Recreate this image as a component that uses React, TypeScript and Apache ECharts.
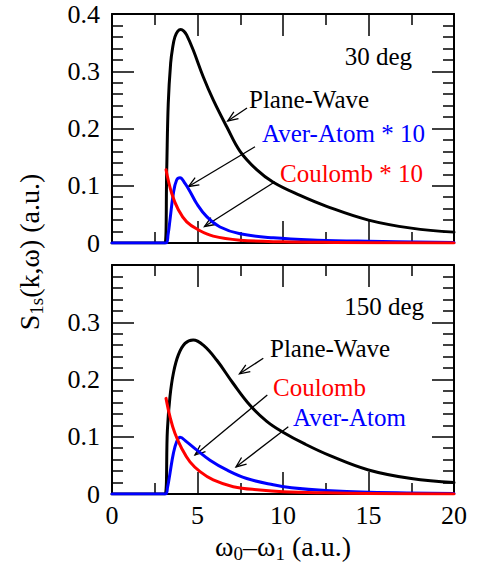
import React, { useEffect, useRef } from "react";
import * as echarts from "echarts";

const FONT = "Liberation Serif";

// Top panel (30 deg)
const pwTopX = [0, 3.1, 3.2, 3.29, 3.43, 3.55, 3.68, 3.85, 4.02, 4.2, 4.37, 4.75, 5.34, 5.92, 6.71, 7.49, 8.46, 9.43, 11, 12.55, 15, 17.5, 20];
const pwTopY = [0, 0, 0.128, 0.244, 0.314, 0.342, 0.36, 0.37, 0.373, 0.37, 0.363, 0.337, 0.29, 0.25, 0.203, 0.16, 0.128, 0.106, 0.083, 0.064, 0.04, 0.026, 0.019];
const aaTopX = [0, 3.15, 3.28, 3.39, 3.59, 3.78, 3.98, 4.27, 4.56, 4.95, 5.54, 6.32, 7.49, 9.43, 12, 15, 20];
const aaTopY = [0, 0, 0.015, 0.04, 0.087, 0.11, 0.114, 0.104, 0.09, 0.069, 0.046, 0.028, 0.016, 0.009, 0.005, 0.003, 0.001];
const cTopX = [3.16, 3.49, 3.88, 4.37, 5.05, 5.92, 7.49, 10, 13, 20];
const cTopY = [0.128, 0.087, 0.058, 0.037, 0.023, 0.012, 0.005, 0.002, 0.001, 0];

// Bottom panel (150 deg)
const pwBotX = [0, 3.1, 3.24, 3.39, 3.59, 3.88, 4.27, 4.75, 5.34, 6.12, 7.09, 8.07, 9.05, 10, 11.3, 12.75, 15, 17.5, 20];
const pwBotY = [0, 0, 0.112, 0.17, 0.211, 0.243, 0.263, 0.269, 0.26, 0.234, 0.193, 0.155, 0.127, 0.108, 0.087, 0.067, 0.042, 0.027, 0.02];
const aaBotX = [0, 3.12, 3.25, 3.39, 3.59, 3.78, 3.98, 4.37, 4.95, 5.73, 6.71, 7.88, 9.43, 10.5, 12.5, 15, 20];
const aaBotY = [0, 0, 0.012, 0.036, 0.071, 0.091, 0.099, 0.091, 0.077, 0.059, 0.042, 0.027, 0.016, 0.011, 0.006, 0.003, 0.001];
const cBotX = [3.16, 3.39, 3.68, 4.07, 4.56, 5.15, 5.92, 7.09, 8.65, 10, 12.5, 15, 20];
const cBotY = [0.167, 0.135, 0.106, 0.08, 0.056, 0.039, 0.0245, 0.0128, 0.007, 0.004, 0.002, 0.001, 0];

const xTicks = { min: 0, max: 20, interval: 5 };
const yTicks = { min: 0, max: 0.4, interval: 0.1 };

const zip = (xs: number[], ys: number[]) => xs.map((x, i) => [x, ys[i]]);

function arrow(x1: number, y1: number, x2: number, y2: number) {
  const ang = Math.atan2(y2 - y1, x2 - x1);
  const L = 11;
  const a = (22 * Math.PI) / 180;
  const p1 = [x2 - L * Math.cos(ang - a), y2 - L * Math.sin(ang - a)];
  const p2 = [x2 - L * Math.cos(ang + a), y2 - L * Math.sin(ang + a)];
  const st = { stroke: "#000", lineWidth: 1.3, fill: null };
  return [
    { type: "line", shape: { x1, y1, x2, y2 }, style: st },
    { type: "polyline", shape: { points: [p1, [x2, y2], p2] }, style: st },
  ];
}

function label(text: string, x: number, y: number, color: string, align = "left") {
  return {
    type: "text",
    x,
    y,
    style: { text, fill: color, fontFamily: FONT, fontSize: 25, align, verticalAlign: "middle" },
  };
}

export default function App() {
  const ref = useRef<HTMLDivElement>(null);
  useEffect(() => {
    if (!ref.current) return;
    const chart = echarts.init(ref.current, null, { renderer: "svg" });
    const line = { color: "#000", width: 2 };
    const tick = { color: "#000", width: 1.5 };
    const mkX = (grid: number, pos: string, labels: boolean) => ({
      type: "value",
      gridIndex: grid,
      position: pos,
      ...xTicks,
      axisLine: { show: true, onZero: false, lineStyle: line },
      axisTick: { show: true, inside: true, length: 22, lineStyle: tick },
      minorTick: { show: true, splitNumber: 2, length: 11, lineStyle: tick },
      splitLine: { show: false },
      minorSplitLine: { show: false },
      axisLabel: { show: labels, color: "#000", fontFamily: FONT, fontSize: 26, margin: 8 },
    });
    const mkY = (grid: number, pos: string, labels: boolean, showMax: boolean) => ({
      type: "value",
      gridIndex: grid,
      position: pos,
      ...yTicks,
      axisLine: { show: true, onZero: false, lineStyle: line },
      axisTick: { show: true, inside: true, length: 22, lineStyle: tick },
      minorTick: { show: true, splitNumber: 5, length: 11, lineStyle: tick },
      splitLine: { show: false },
      minorSplitLine: { show: false },
      axisLabel: {
        show: labels,
        showMaxLabel: showMax,
        color: "#000",
        fontFamily: FONT,
        fontSize: 26,
        margin: 12,
      },
    });
    const ser = (name: string, xs: number[], ys: number[], color: string, axis: number) => ({
      type: "line",
      name,
      data: zip(xs, ys),
      xAxisIndex: axis,
      yAxisIndex: axis,
      showSymbol: false,
      symbol: "none",
      smooth: 0.4,
      lineStyle: { color, width: 3, join: "round", cap: "round" },
      color,
    });
    chart.setOption({
      animation: false,
      backgroundColor: "#fff",
      grid: [
        { left: 112, top: 14, width: 342, height: 229 },
        { left: 112, top: 265, width: 342, height: 229 },
      ],
      xAxis: [mkX(0, "bottom", false), mkX(0, "top", false), mkX(1, "bottom", true), mkX(1, "top", false)],
      yAxis: [mkY(0, "left", true, true), mkY(0, "right", false, true), mkY(1, "left", true, false), mkY(1, "right", false, false)],
      series: [
        ser("Plane-Wave 30", pwTopX, pwTopY, "#000000", 0),
        ser("Aver-Atom*10 30", aaTopX, aaTopY, "#0000ff", 0),
        ser("Coulomb*10 30", cTopX, cTopY, "#ff0000", 0),
        ser("Plane-Wave 150", pwBotX, pwBotY, "#000000", 2),
        ser("Aver-Atom 150", aaBotX, aaBotY, "#0000ff", 2),
        ser("Coulomb 150", cBotX, cBotY, "#ff0000", 2),
      ],
      graphic: [
        label("30 deg", 412, 56, "#000", "right"),
        label("Plane-Wave", 249, 99, "#000"),
        label("Aver-Atom * 10", 262, 133, "#0000ff"),
        label("Coulomb * 10", 280, 173, "#ff0000"),
        ...arrow(247, 108, 227.7, 121),
        ...arrow(255, 146.7, 188.5, 186.5),
        ...arrow(275, 181.7, 204.5, 226.5),
        label("150 deg", 424, 306, "#000", "right"),
        label("Plane-Wave", 270, 348, "#000"),
        label("Coulomb", 273, 387, "#ff0000"),
        label("Aver-Atom", 293, 417, "#0000ff"),
        ...arrow(263.3, 358.3, 239.5, 373.8),
        ...arrow(267.3, 395, 195, 455),
        ...arrow(288.3, 426.7, 236, 467),
        {
          type: "text",
          x: 283,
          y: 546,
          style: {
            text: "ω{sub|0}–ω{sub|1} (a.u.)",
            fill: "#000",
            fontFamily: FONT,
            fontSize: 28,
            align: "center",
            verticalAlign: "middle",
            rich: { sub: { fontSize: 19, fontFamily: FONT, fill: "#000", padding: [14, 0, 0, 0] } },
          },
        },
        {
          type: "text",
          x: 29,
          y: 252,
          rotation: Math.PI / 2,
          style: {
            text: "S{sub|1s}(k,ω) (a.u.)",
            fill: "#000",
            fontFamily: FONT,
            fontSize: 28,
            align: "center",
            verticalAlign: "middle",
            rich: { sub: { fontSize: 19, fontFamily: FONT, fill: "#000", padding: [14, 0, 0, 0] } },
          },
        },
      ],
    });
    return () => chart.dispose();
  }, []);
  return <div ref={ref} style={{ position: "fixed", left: 0, top: 0, width: 477, height: 572 }} />;
}
